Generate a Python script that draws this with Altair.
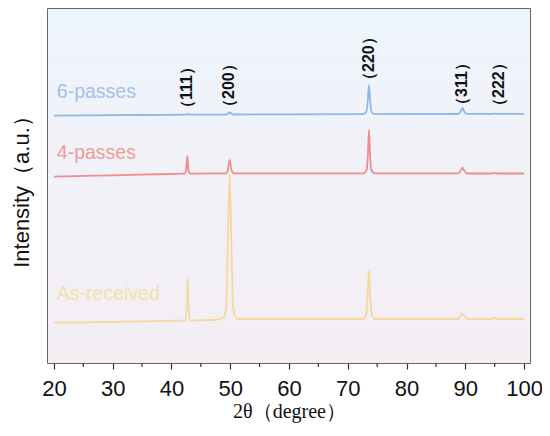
import altair as alt
import pandas as pd

# ---- data (x: 2-theta in degrees, y: intensity in a.u.) ----
as_x = [20, 30, 40, 42.4, 42.6, 42.75, 42.9, 43.1, 47.0, 48.0, 48.8, 49.3, 49.6, 49.9, 50.2, 50.5, 51.0, 52,
        60, 72.6, 73.1, 73.4, 73.6, 73.8, 74.1, 74.6, 88.8, 89.2, 89.5, 89.8, 90.4, 94.5, 94.9, 95.3, 100]
as_y = [40.3, 41.2, 42.2, 42.4, 60, 84.7, 60, 42.6, 43, 43.8, 45, 55, 120, 189, 120, 55, 44.5, 44,
        44, 44, 48, 70, 92, 70, 48, 44, 44, 47.5, 49.7, 47.5, 44, 44, 45.7, 44, 44]

p4_x = [20, 30, 40, 42.2, 42.5, 42.7, 42.9, 43.2, 49.3, 49.6, 49.9, 50.2, 50.6, 60, 72.7, 73.2, 73.45, 73.6,
        73.75, 74.0, 74.6, 88.8, 89.2, 89.5, 89.8, 90.3, 94.6, 95.0, 95.4, 100]
p4_y = [186.3, 187.7, 189, 189.3, 193, 207, 193, 189.4, 189.6, 193, 203, 193, 189.6, 189.6, 189.6, 193, 212, 233,
        212, 193, 189.6, 189.6, 192.5, 195.3, 192.5, 189.5, 189.5, 190.2, 189.5, 189.5]

p6_x = [20, 30, 40, 42.3, 42.7, 43.1, 49.3, 49.9, 50.5, 60, 72.6, 73.1, 73.4, 73.6, 73.8, 74.1, 74.6,
        88.8, 89.2, 89.5, 89.8, 90.3, 94.6, 95.0, 95.4, 100]
p6_y = [247.3, 247.8, 248.2, 248.3, 249, 248.3, 248.4, 250.5, 248.5, 248.6, 248.8, 250.5, 262, 278, 262, 250.5, 248.9,
        249, 251.5, 255, 251.5, 249.1, 249.1, 249.4, 249.1, 249.2]

series_names = ["As-received", "4-passes", "6-passes"]
series_colors = ["#f5d89c", "#ef8c90", "#92b6e8"]
label_colors = ["#f6dfaa", "#f2999c", "#a2c0ea"]

hkl_labels = ["（111）", "（200）", "（220）", "（311）", "（222）"]
hkl_x = [42.6, 49.8, 73.55, 89.5, 95.8]
hkl_y = [247, 248, 275, 250, 249]

x_ticks = [20, 30, 40, 50, 60, 70, 80, 90, 100]
x_minor = [25, 35, 45, 55, 65, 75, 85, 95]

W, H = 482, 354

rows = []
for name, xs, ys in [("As-received", as_x, as_y), ("4-passes", p4_x, p4_y), ("6-passes", p6_x, p6_y)]:
    for i, (a, b) in enumerate(zip(xs, ys)):
        rows.append({"series": name, "theta": a, "intensity": b, "order": i})
df = pd.DataFrame(rows)

xscale = alt.Scale(domain=[19, 101], nice=False, zero=False)
yscale = alt.Scale(domain=[0, 354], nice=False, zero=False)

bg = alt.Chart(pd.DataFrame({"a": [0]})).mark_rect(
    color=alt.Gradient(
        gradient="linear",
        stops=[alt.GradientStop(color="#eef5fc", offset=0),
               alt.GradientStop(color="#f1f1f7", offset=0.5),
               alt.GradientStop(color="#f4eef3", offset=1)],
        x1=0, x2=0, y1=0, y2=1,
    )
).encode(x=alt.value(0), x2=alt.value(W), y=alt.value(0), y2=alt.value(H))

lines = alt.Chart(df).mark_line(strokeWidth=1.8, interpolate="monotone").encode(
    x=alt.X("theta:Q", scale=xscale,
            axis=alt.Axis(values=x_ticks, title="2θ（degree）", grid=False, domain=False,
                          tickSize=6, tickColor="#333", tickWidth=1.2,
                          labelFont="Liberation Sans", labelFontSize=22, labelColor="#111",
                          labelPadding=9, titleFont="Liberation Serif", titleFontSize=20,
                          titleFontWeight="normal", titleColor="#111", titlePadding=2)),
    y=alt.Y("intensity:Q", scale=yscale,
            axis=alt.Axis(labels=False, ticks=False, grid=False, domain=False,
                          title="Intensity（a.u.）", titleFont="Liberation Sans", titleFontSize=22,
                          titleFontWeight="normal", titleColor="#111", titlePadding=15)),
    color=alt.Color("series:N", scale=alt.Scale(domain=series_names, range=series_colors), legend=None),
    order="order:Q",
    detail="series:N",
)

minor = alt.Chart(pd.DataFrame({"theta": x_minor})).mark_rule(color="#333", strokeWidth=1.2).encode(
    x=alt.X("theta:Q", scale=xscale), y=alt.value(H), y2=alt.value(H + 4)
)

lab_pos = {"As-received": 69, "4-passes": 210, "6-passes": 271}
series_texts = []
for name, col in zip(series_names, label_colors):
    series_texts.append(
        alt.Chart(pd.DataFrame({"t": [name]})).mark_text(
            align="left", baseline="middle", font="Liberation Sans", fontSize=19.5, color=col
        ).encode(x=alt.datum(20.5), y=alt.datum(lab_pos[name]), text="t:N")
    )

hkl_df = pd.DataFrame({"label": hkl_labels, "theta": hkl_x, "intensity": hkl_y})
hkl = alt.Chart(hkl_df).mark_text(
    angle=270, align="left", baseline="middle", font="Liberation Sans", fontSize=16,
    fontWeight="bold", color="#111"
).encode(x=alt.X("theta:Q", scale=xscale), y=alt.Y("intensity:Q", scale=yscale), text="label:N")

chart = alt.layer(bg, lines, minor, hkl, *series_texts).properties(
    width=W, height=H,
    padding={"left": 40, "top": 1, "right": 12, "bottom": 65},
    autosize=alt.AutoSizeParams(type="none"),
).configure_view(stroke="#333", strokeWidth=1.5)

chart.save("out.html", embed_options={"renderer": "svg", "actions": False})
